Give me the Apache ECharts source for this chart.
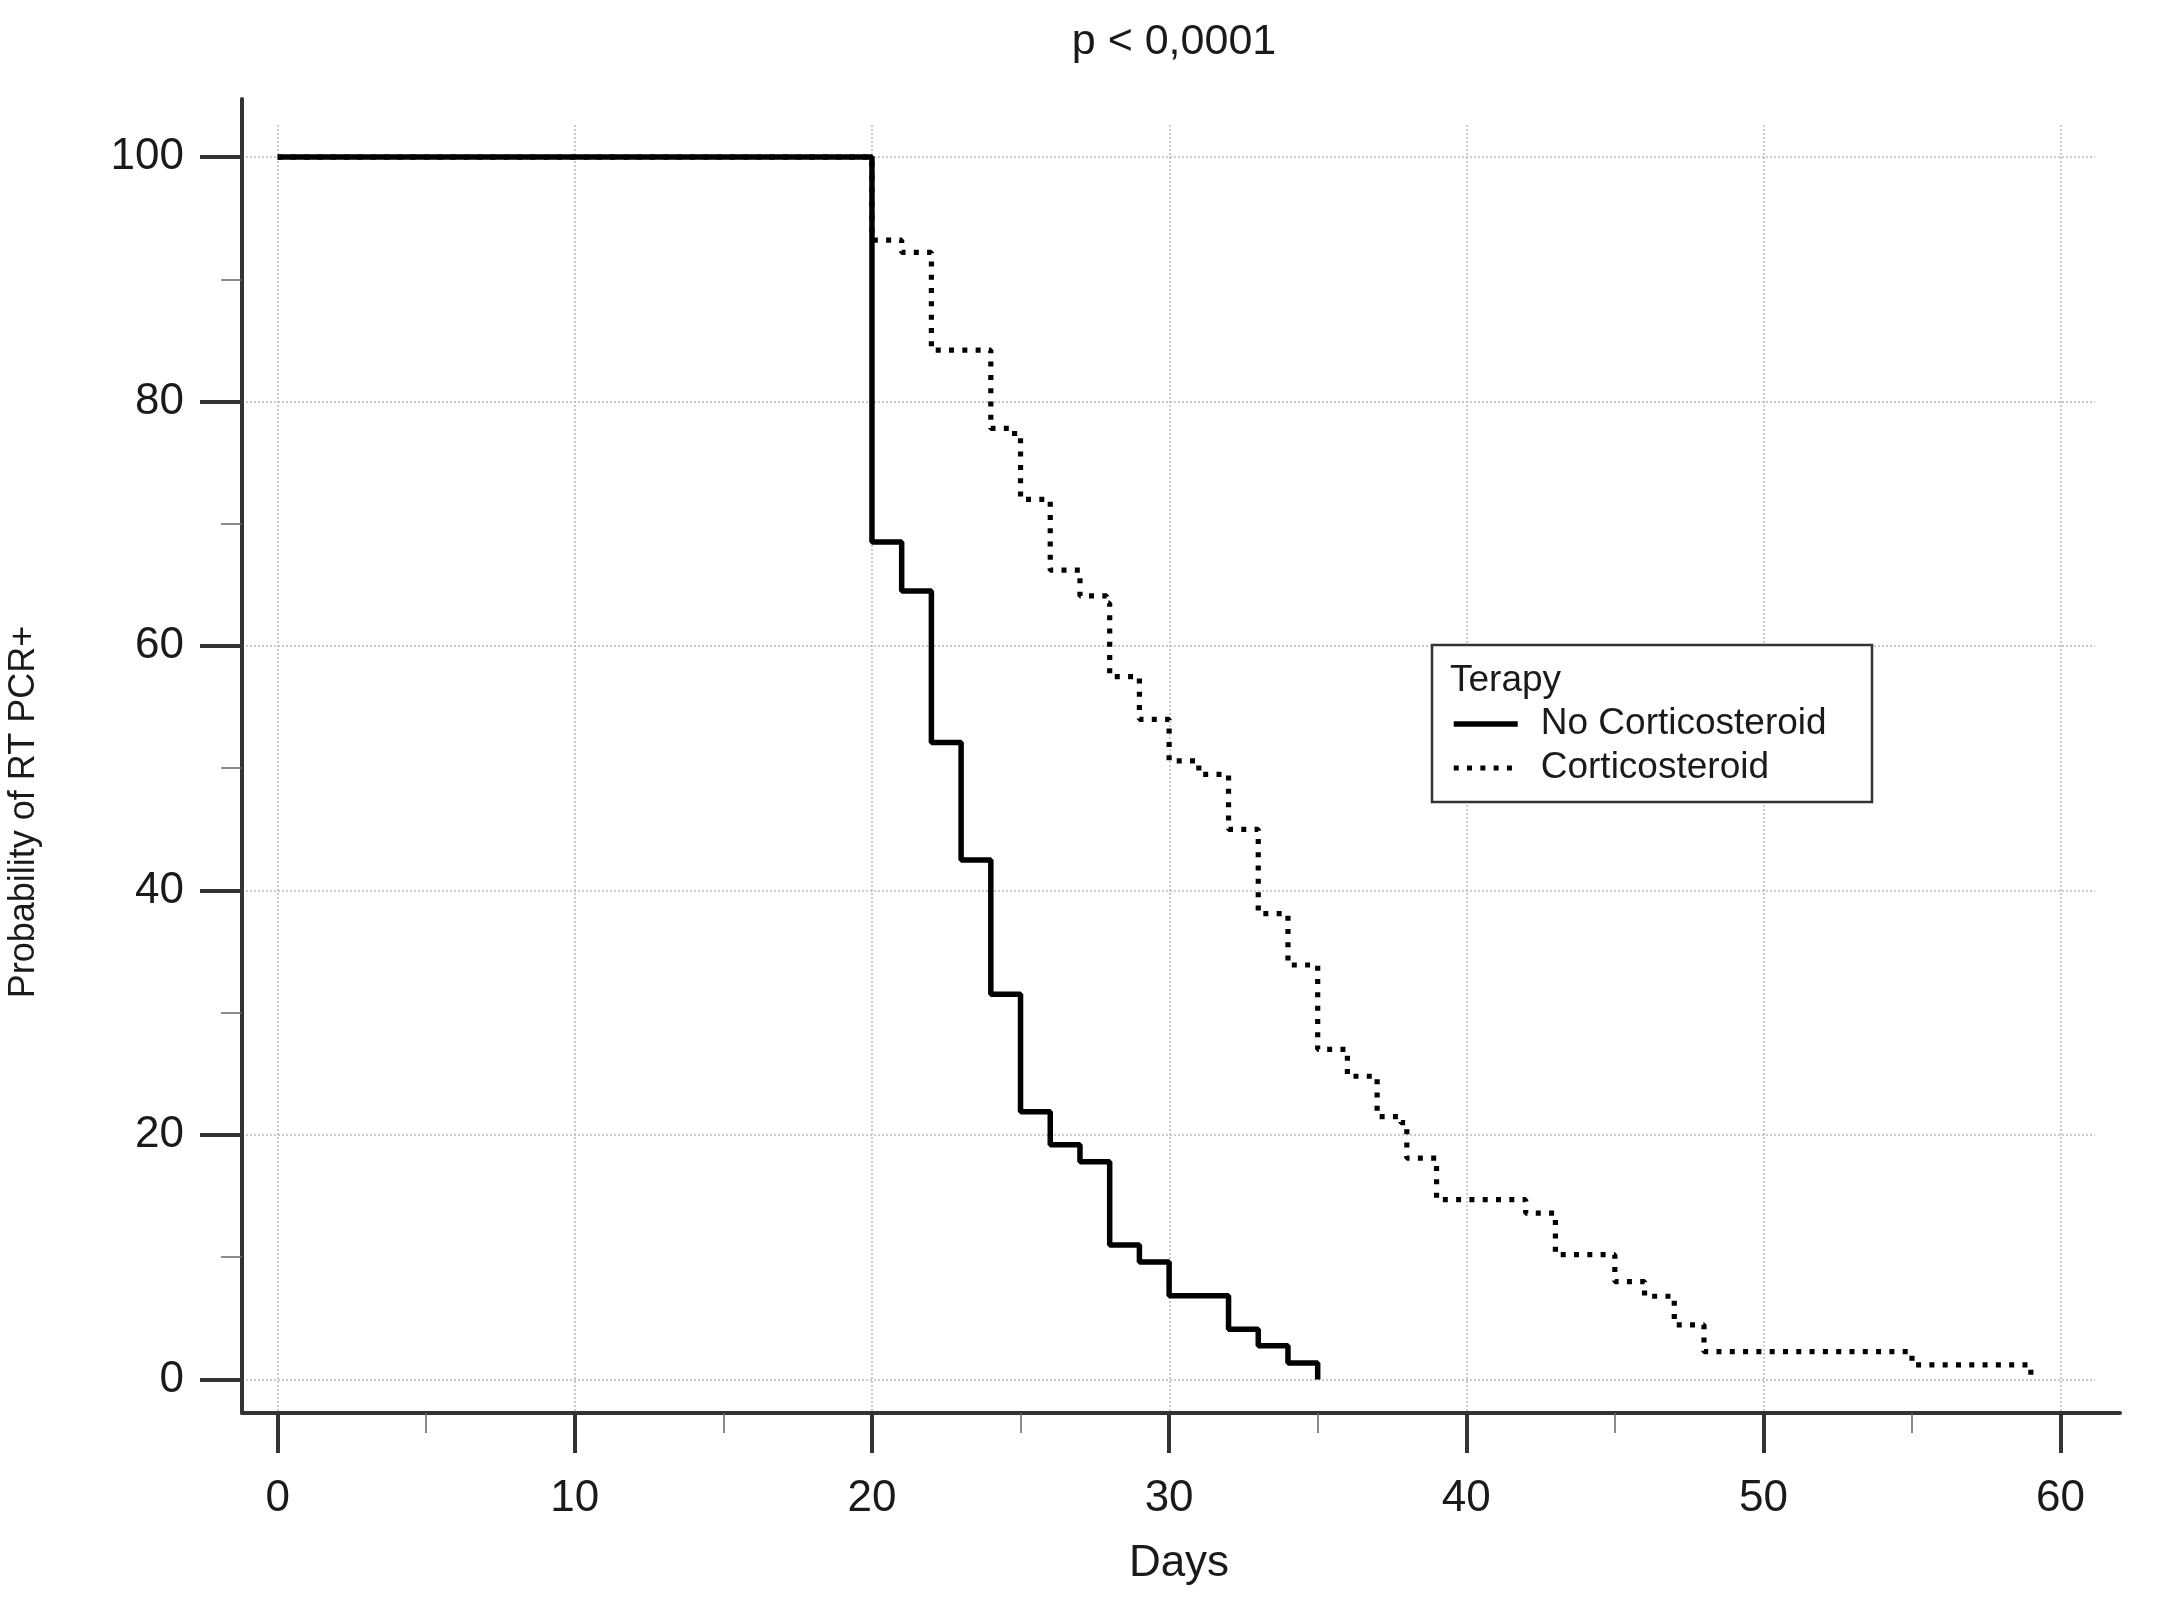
<!DOCTYPE html>
<html>
<head>
<meta charset="utf-8">
<script src="https://cdn.jsdelivr.net/npm/echarts@6/dist/echarts.min.js"></script>
<style>
html,body{margin:0;padding:0;background:#fff;}
#chart{width:2167px;height:1600px;}
</style>
</head>
<body>
<div id="chart"></div>
<script>
// ---- data ----
const seriesNames = ['No Corticosteroid', 'Corticosteroid'];
const daysNoCort = [0, 20, 21, 22, 23, 24, 25, 26, 27, 28, 29, 30, 32, 33, 34, 35];
const probNoCort = [100, 68.5, 64.5, 52.1, 42.5, 31.5, 21.9, 19.2, 17.8, 11.0, 9.6, 6.85, 4.1, 2.75, 1.35, 0];
const daysCort = [0, 20, 21, 22, 24, 24.8, 25, 26, 27, 27.9, 28, 29, 30, 31, 32, 33, 34, 35, 36, 37, 37.8, 38, 39, 42, 43, 45, 46, 47, 48, 55, 59];
const probCort = [100, 93.2, 92.2, 84.2, 77.8, 77.1, 72.0, 66.2, 64.1, 63.5, 57.5, 54.0, 50.6, 49.5, 45.0, 38.1, 33.9, 27.0, 24.8, 21.5, 21.0, 18.1, 14.7, 13.6, 10.2, 8.0, 6.8, 4.46, 2.27, 1.19, 0];
const xMajorTicks = [0, 10, 20, 30, 40, 50, 60];
const xMinorTicks = [5, 15, 25, 35, 45, 55];
const yMajorTicks = [0, 20, 40, 60, 80, 100];
const yMinorTicks = [10, 30, 50, 70, 90];
const titleText = 'p < 0,0001';
const xTitle = 'Days';
const yTitle = 'Probability of RT PCR+';
const legendTitle = 'Terapy';

const pairs = (xs, ys) => xs.map((x, i) => [x, ys[i]]);

const FONT = '"Liberation Sans", Arial, sans-serif';
const AX = '#333';

const chart = echarts.init(document.getElementById('chart'), null, {renderer: 'canvas'});

const hidden = {show: false};
const option = {
  animation: false,
  backgroundColor: '#fff',
  textStyle: {fontFamily: FONT},
  grid: [
    {left: 242, top: 99, width: 1878, height: 1314},   // main
    {left: 242, top: 125, width: 1853, height: 1288},  // grid lines
    {left: 242, top: 99, width: 1878, height: 1314}    // minor ticks
  ],
  xAxis: [
    {
      type: 'value', gridIndex: 0, min: -1.2, max: 62,
      axisLine: {show: true, onZero: false, lineStyle: {color: AX, width: 4}},
      axisTick: {show: true, inside: false, length: 40, customValues: xMajorTicks, lineStyle: {color: AX, width: 4}},
      axisLabel: {show: true, customValues: xMajorTicks, margin: 64, fontSize: 44, color: '#1a1a1a', fontFamily: FONT},
      splitLine: hidden, minorTick: hidden
    },
    {
      type: 'value', gridIndex: 1, min: -1.2, max: 61.148,
      axisLine: hidden, axisLabel: {show: false, customValues: xMajorTicks},
      axisTick: {show: false, customValues: xMajorTicks},
      splitLine: {show: true, lineStyle: {color: '#bdbdbd', width: 1.6, type: [2, 2]}}
    },
    {
      type: 'value', gridIndex: 2, min: -1.2, max: 62,
      axisLine: {show: false, onZero: false}, axisLabel: {show: false, customValues: xMinorTicks},
      axisTick: {show: true, length: 20, customValues: xMinorTicks, lineStyle: {color: '#666', width: 1.5}},
      splitLine: hidden
    }
  ],
  yAxis: [
    {
      type: 'value', gridIndex: 0, min: -2.75, max: 104.75,
      axisLine: {show: true, onZero: false, lineStyle: {color: AX, width: 4}},
      axisTick: {show: true, inside: false, length: 42, customValues: yMajorTicks, lineStyle: {color: AX, width: 4}},
      axisLabel: {show: true, customValues: yMajorTicks, margin: 58, fontSize: 44, color: '#1a1a1a', fontFamily: FONT},
      splitLine: hidden, minorTick: hidden
    },
    {
      type: 'value', gridIndex: 1, min: -2.75, max: 102.63,
      axisLine: hidden, axisLabel: {show: false, customValues: yMajorTicks},
      axisTick: {show: false, customValues: yMajorTicks},
      splitLine: {show: true, lineStyle: {color: '#bdbdbd', width: 1.6, type: [2, 2]}}
    },
    {
      type: 'value', gridIndex: 2, min: -2.75, max: 104.75,
      axisLine: {show: false, onZero: false}, axisLabel: {show: false, customValues: yMinorTicks},
      axisTick: {show: true, length: 21, customValues: yMinorTicks, lineStyle: {color: '#666', width: 1.5}},
      splitLine: hidden
    }
  ],
  legend: {
    orient: 'vertical',
    left: 1451, top: 702,
    z: 10,
    itemWidth: 64, itemHeight: 14, itemGap: 0,
    padding: 0,
    data: seriesNames,
    itemStyle: {opacity: 0},
    lineStyle: {width: 'inherit', type: 'inherit', color: 'inherit'},
    textStyle: {fontSize: 37, lineHeight: 44, color: '#1a1a1a', fontFamily: FONT, padding: [0, 0, 0, 18]},
    selectedMode: false
  },
  graphic: [
    {type: 'rect', z: 3, shape: {x: 1432, y: 645, width: 440, height: 157},
     style: {fill: '#fff', stroke: '#333', lineWidth: 2.5}},
    {type: 'text', z: 11, x: 1450, y: 681,
     style: {text: legendTitle, font: '37px ' + FONT, fill: '#1a1a1a', verticalAlign: 'middle', align: 'left'}},
    {type: 'text', z: 11, x: 1174, y: 42,
     style: {text: titleText, font: '43px ' + FONT, fill: '#1a1a1a', verticalAlign: 'middle', align: 'center'}},
    {type: 'text', z: 11, x: 1179, y: 1564,
     style: {text: xTitle, font: '44px ' + FONT, fill: '#1a1a1a', verticalAlign: 'middle', align: 'center'}},
    {type: 'text', z: 11, x: 24, y: 812, rotation: Math.PI / 2,
     style: {text: yTitle, font: '36px ' + FONT, fill: '#1a1a1a', verticalAlign: 'middle', align: 'center'}}
  ],
  series: [
    {
      name: seriesNames[0], type: 'line', xAxisIndex: 0, yAxisIndex: 0,
      step: 'end', symbol: 'none', showSymbol: false,
      data: pairs(daysNoCort, probNoCort),
      lineStyle: {color: '#000', width: 5.5, type: 'solid'},
      itemStyle: {color: '#000'}, z: 3
    },
    {
      name: seriesNames[1], type: 'line', xAxisIndex: 0, yAxisIndex: 0,
      step: 'end', symbol: 'none', showSymbol: false,
      data: pairs(daysCort, probCort),
      lineStyle: {color: '#000', width: 5.2, type: [5, 8.3], cap: 'butt'},
      itemStyle: {color: '#000'}, z: 2
    }
  ]
};
chart.setOption(option);
</script>
</body>
</html>
